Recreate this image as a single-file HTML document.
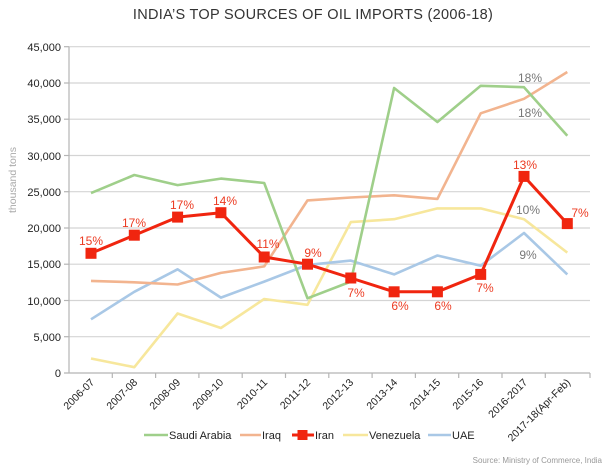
<!DOCTYPE html>
<html><head><meta charset="utf-8"><style>
html,body{margin:0;padding:0;background:#fff;}
svg{display:block;font-family:"Liberation Sans",sans-serif;}
</style></head><body>
<svg width="611" height="471" viewBox="0 0 611 471" xmlns="http://www.w3.org/2000/svg">
<rect width="611" height="471" fill="#fff"/>
<text x="313" y="19" text-anchor="middle" font-size="14.5" fill="#333" letter-spacing="0.3">INDIA’S TOP SOURCES OF OIL IMPORTS (2006-18)</text>
<g stroke="#d4d4d4" stroke-width="1.2">
<line x1="69" y1="46.7" x2="590" y2="46.7"/>
<line x1="69" y1="83" x2="590" y2="83"/>
<line x1="69" y1="119.2" x2="590" y2="119.2"/>
<line x1="69" y1="155.5" x2="590" y2="155.5"/>
<line x1="69" y1="191.7" x2="590" y2="191.7"/>
<line x1="69" y1="228" x2="590" y2="228"/>
<line x1="69" y1="264.2" x2="590" y2="264.2"/>
<line x1="69" y1="300.5" x2="590" y2="300.5"/>
<line x1="69" y1="336.7" x2="590" y2="336.7"/>
</g>
<g stroke="#b5b5b5" stroke-width="1.2">
<line x1="69" y1="46.7" x2="69" y2="373"/>
<line x1="64" y1="373" x2="590" y2="373"/>
<line x1="64" y1="46.7" x2="69" y2="46.7"/><line x1="64" y1="83" x2="69" y2="83"/><line x1="64" y1="119.2" x2="69" y2="119.2"/><line x1="64" y1="155.5" x2="69" y2="155.5"/><line x1="64" y1="191.7" x2="69" y2="191.7"/><line x1="64" y1="228" x2="69" y2="228"/><line x1="64" y1="264.2" x2="69" y2="264.2"/><line x1="64" y1="300.5" x2="69" y2="300.5"/><line x1="64" y1="336.7" x2="69" y2="336.7"/>
<line x1="112.3" y1="373" x2="112.3" y2="378"/><line x1="155.6" y1="373" x2="155.6" y2="378"/><line x1="198.9" y1="373" x2="198.9" y2="378"/><line x1="242.2" y1="373" x2="242.2" y2="378"/><line x1="285.5" y1="373" x2="285.5" y2="378"/><line x1="328.8" y1="373" x2="328.8" y2="378"/><line x1="372.1" y1="373" x2="372.1" y2="378"/><line x1="415.4" y1="373" x2="415.4" y2="378"/><line x1="458.7" y1="373" x2="458.7" y2="378"/><line x1="502" y1="373" x2="502" y2="378"/><line x1="545.3" y1="373" x2="545.3" y2="378"/><line x1="590" y1="373" x2="590" y2="378"/>
</g>
<g font-size="11" fill="#222" text-anchor="end">
<text x="61" y="51">45,000</text><text x="61" y="87">40,000</text><text x="61" y="123">35,000</text><text x="61" y="160">30,000</text><text x="61" y="196">25,000</text><text x="61" y="232">20,000</text><text x="61" y="268">15,000</text><text x="61" y="305">10,000</text><text x="61" y="341">5,000</text><text x="61" y="377">0</text>
</g>
<text transform="translate(16,180) rotate(-90)" text-anchor="middle" font-size="10.5" fill="#aaa">thousand tons</text>
<g font-size="10.5" fill="#222" text-anchor="end">
<text transform="translate(95,383) rotate(-45)">2006-07</text>
<text transform="translate(138,383) rotate(-45)">2007-08</text>
<text transform="translate(181,383) rotate(-45)">2008-09</text>
<text transform="translate(224,383) rotate(-45)">2009-10</text>
<text transform="translate(268,383) rotate(-45)">2010-11</text>
<text transform="translate(311,383) rotate(-45)">2011-12</text>
<text transform="translate(354,383) rotate(-45)">2012-13</text>
<text transform="translate(398,383) rotate(-45)">2013-14</text>
<text transform="translate(441,383) rotate(-45)">2014-15</text>
<text transform="translate(484,383) rotate(-45)">2015-16</text>
<text transform="translate(528,383) rotate(-45)">2016-2017</text>
<text transform="translate(571,383) rotate(-45)">2017-18(Apr-Feb)</text>
</g>
<g fill="none" stroke-width="2.6" stroke-linejoin="round">
<polyline stroke="#f7e79c" points="91,358.5 134.3,367.2 177.6,313.5 220.9,328 264.2,299 307.5,304.8 350.8,222.1 394.1,219.2 437.4,208.4 480.7,208.4 524,219.2 567.3,252.6"/>
<polyline stroke="#a9c8e6" points="91,319.3 134.3,291.8 177.6,269.3 220.9,297.6 264.2,281.6 307.5,264.9 350.8,260.6 394.1,274.4 437.4,255.5 480.7,265.7 524,233 567.3,274.4"/>
<polyline stroke="#f2b48f" points="91,280.9 134.3,282.3 177.6,284.5 220.9,272.9 264.2,266.4 307.5,200.4 350.8,197.5 394.1,195.3 437.4,198.9 480.7,113.3 524,98.8 567.3,72"/>
<polyline stroke="#9fcf8a" points="91,193.1 134.3,175 177.6,185.1 220.9,178.6 264.2,183 307.5,298.3 350.8,281.6 394.1,88 437.4,122 480.7,85.8 524,87.2 567.3,135.8"/>
<polyline stroke="#f0250f" stroke-width="3" points="91,253.3 134.3,235.2 177.6,217.1 220.9,212.7 264.2,257 307.5,264.2 350.8,278 394.1,291.8 437.4,291.8 480.7,274.4 524,176.4 567.3,223.6"/>
</g>
<g fill="#f0250f">
<rect x="85.5" y="247.8" width="11" height="11"/><rect x="128.8" y="229.7" width="11" height="11"/><rect x="172.1" y="211.6" width="11" height="11"/><rect x="215.4" y="207.2" width="11" height="11"/><rect x="258.7" y="251.5" width="11" height="11"/><rect x="302" y="258.7" width="11" height="11"/><rect x="345.3" y="272.5" width="11" height="11"/><rect x="388.6" y="286.3" width="11" height="11"/><rect x="431.9" y="286.3" width="11" height="11"/><rect x="475.2" y="268.9" width="11" height="11"/><rect x="518.5" y="170.9" width="11" height="11"/><rect x="561.8" y="218.1" width="11" height="11"/>
</g>
<g font-size="12" fill="#ec3b22" text-anchor="middle">
<text x="91" y="245">15%</text><text x="134" y="227">17%</text><text x="182" y="209">17%</text><text x="225" y="205">14%</text><text x="268" y="248">11%</text><text x="313" y="257">9%</text><text x="356" y="297">7%</text><text x="400" y="310">6%</text><text x="443" y="310">6%</text><text x="485" y="292">7%</text><text x="525" y="169">13%</text><text x="580" y="217">7%</text>
</g>
<g font-size="12" fill="#777" text-anchor="middle">
<text x="530" y="82">18%</text><text x="530" y="117">18%</text><text x="528" y="214">10%</text><text x="528" y="259">9%</text>
</g>
<g font-size="11" fill="#222">
<line x1="144" y1="435" x2="168" y2="435" stroke="#9fcf8a" stroke-width="2.6"/><text x="169" y="439">Saudi Arabia</text>
<line x1="240" y1="435" x2="261" y2="435" stroke="#f2b48f" stroke-width="2.6"/><text x="262" y="439">Iraq</text>
<line x1="292" y1="435" x2="314" y2="435" stroke="#f0250f" stroke-width="3"/><rect x="297.5" y="430" width="10" height="10" fill="#f0250f"/><text x="315" y="439">Iran</text>
<line x1="343" y1="435" x2="368" y2="435" stroke="#f7e79c" stroke-width="2.6"/><text x="369" y="439">Venezuela</text>
<line x1="428" y1="435" x2="451" y2="435" stroke="#a9c8e6" stroke-width="2.6"/><text x="452" y="439">UAE</text>
</g>
<text x="602" y="497" font-size="8" fill="#999" text-anchor="end" transform="translate(0,-34)">Source: Ministry of Commerce, India</text>
</svg>
</body></html>
